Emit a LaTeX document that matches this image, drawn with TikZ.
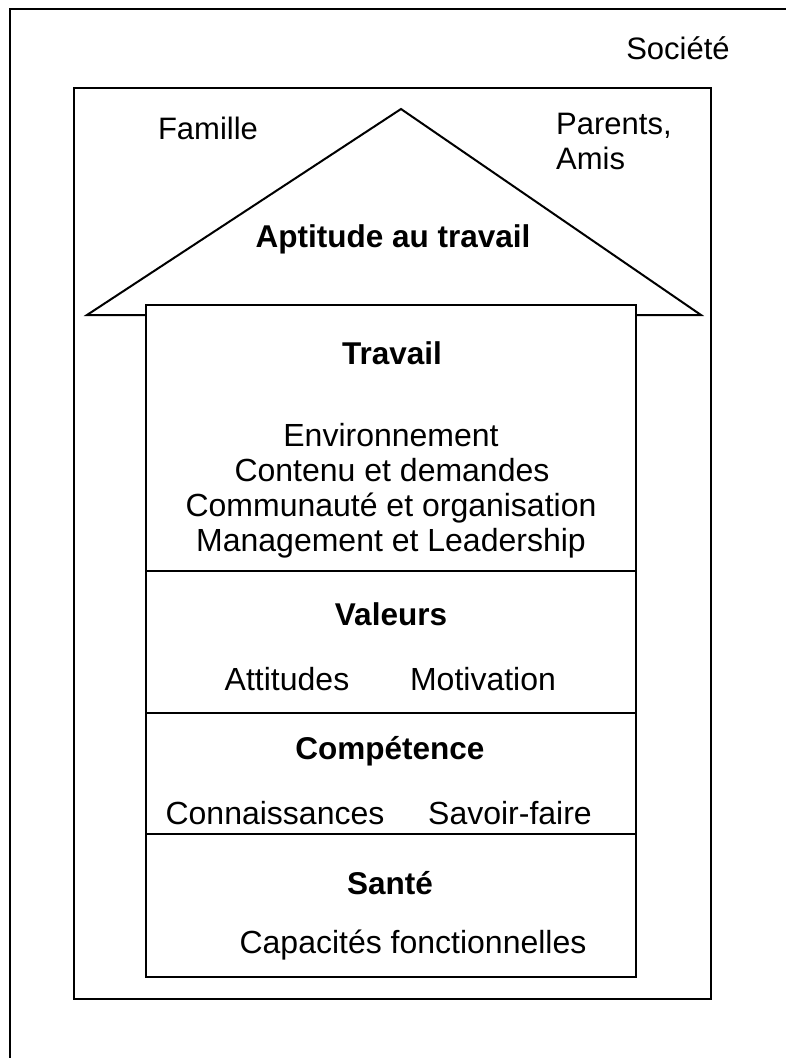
\documentclass[tikz,border=0pt]{standalone}
\usepackage{fontspec}
\setmainfont{Liberation Sans}
\begin{document}
\begin{tikzpicture}[x=1pt,y=-1pt,
  lbl/.style={inner sep=0pt, font=\fontsize{31}{35}\selectfont, text height=22pt, text depth=0pt},
  txt/.style={inner sep=0pt, font=\fontsize{32}{35}\selectfont, text height=22pt, text depth=0pt},
  ttl/.style={inner sep=0pt, font=\fontsize{31.5}{35}\selectfont\bfseries, text height=22pt, text depth=0pt},
  frame/.style={line width=2pt, line join=miter}]
\useasboundingbox (0,0) rectangle (786,1058);
% outer (society) frame, cut by the page edges
\draw[frame] (10,1070) -- (10,9) -- (800,9);
% family frame
\draw[frame] (74,88) rectangle (711,999);
% roof
\draw[frame] (146,315) -- (87,315) -- (401,109) -- (701,315) -- (636,315);
% house body
\draw[frame] (146,305) rectangle (636,977);
\draw[frame] (146,571) -- (636,571);
\draw[frame] (146,713) -- (636,713);
\draw[frame] (146,834) -- (636,834);
% labels
\node[lbl] (societe) at (678,48) {Société};
\node[lbl] (famille) at (208,128) {Famille};
\node[lbl, anchor=west] (parents) at (556,123) {Parents,};
\node[lbl, anchor=west] (amis) at (556,158) {Amis};
\node[ttl] (aptitude) at (393,236) {Aptitude au travail};
\node[ttl] (travail) at (392,353) {Travail};
\node[txt] (env) at (391,435) {Environnement};
\node[txt] (contenu) at (392,470) {Contenu et demandes};
\node[txt] (commu) at (391,505) {Communauté et organisation};
\node[txt] (manag) at (391,540) {Management et Leadership};
\node[ttl] (valeurs) at (391,614) {Valeurs};
\node[txt] (attitudes) at (287,679) {Attitudes};
\node[txt] (motivation) at (483,679) {Motivation};
\node[ttl] (competence) at (390,748) {Compétence};
\node[txt] (connais) at (275,813) {Connaissances};
\node[txt] (savoir) at (510,813) {Savoir-faire};
\node[ttl] (sante) at (390,883) {Santé};
\node[txt] (capacites) at (413,942) {Capacités fonctionnelles};
\end{tikzpicture}
\end{document}
